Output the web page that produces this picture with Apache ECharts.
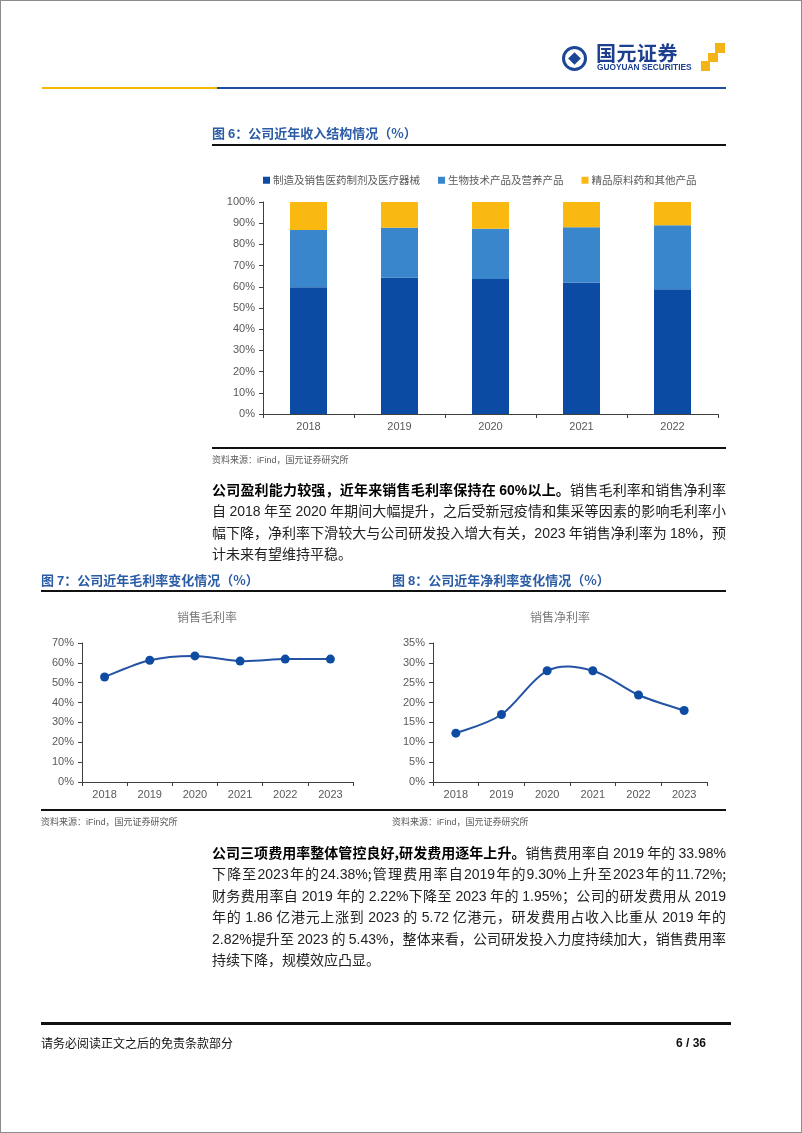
<!DOCTYPE html>
<html>
<head>
<meta charset="utf-8">
<title>国元证券</title>
<script src="https://cdn.jsdelivr.net/npm/echarts@6/dist/echarts.min.js"></script>
<style>
  body { margin: 0; background: #fff; }
  #page { position: relative; width: 802px; height: 1133px; box-sizing: border-box; border: 1px solid #8c8c8c; overflow: hidden; background: #fff; }
  #chart { position: absolute; left: -1px; top: -1px; width: 802px; height: 1133px; }
  .abs { position: absolute; white-space: nowrap; }
  .cjk { font-family: "Noto Sans CJK SC", "Liberation Sans", sans-serif; }
  .figtitle { font-size: 13px; font-weight: bold; color: #2b5ca6; line-height: 16px; }
  .src { font-size: 9px; color: #595959; line-height: 12px; }
  .rule { position: absolute; background: #111; }
  .para { position: absolute; left: 211px; width: 514px; font-size: 14px; line-height: 20.4px; color: #222; }
  .para div { text-align: justify; text-align-last: justify; white-space: nowrap; }
  .para div.last { text-align-last: left; }
  .para b { color: #000; }
  .num { font-family: "Liberation Sans", Arial, sans-serif; }
</style>
</head>
<body>
<div id="page">
  <div id="chart"></div>

  <!-- header -->
  <div class="abs" style="left:561px;top:45px;width:19px;height:19px;border:3px solid #1c4796;border-radius:50%;"></div>
  <div class="abs" style="left:569px;top:53px;width:9px;height:9px;background:#1c4796;transform:rotate(45deg);"></div>
  <div class="abs cjk" style="left:595px;top:39px;font-size:20px;font-weight:bold;color:#1c3f8f;letter-spacing:0.5px;line-height:25px;">国元证券</div>
  <div class="abs" style="left:596px;top:62px;font-family:'Liberation Sans',sans-serif;font-size:8.3px;font-weight:bold;color:#1c3f8f;line-height:9px;">GUOYUAN SECURITIES</div>
  <div class="abs" style="left:714px;top:42px;width:10px;height:10px;background:#f5b415;"></div>
  <div class="abs" style="left:707px;top:52px;width:10px;height:9px;background:#f5b415;"></div>
  <div class="abs" style="left:700px;top:60px;width:9px;height:10px;background:#f5b415;"></div>
  <div class="rule" style="left:41px;top:86px;width:175px;height:2px;background:#f5b800;"></div>
  <div class="rule" style="left:216px;top:86px;width:509px;height:2px;background:#1f4e9c;"></div>

  <!-- figure 6 -->
  <div class="abs cjk figtitle" style="left:211px;top:124px;">图 <span class="num">6</span>：公司近年收入结构情况（%）</div>
  <div class="rule" style="left:211px;top:143px;width:514px;height:2px;"></div>
  <div class="rule" style="left:211px;top:446px;width:514px;height:1.5px;"></div>
  <div class="abs cjk src" style="left:211px;top:453px;">资料来源：<span class="num">iFind</span>，国元证券研究所</div>

  <!-- paragraph 1 -->
  <div class="para cjk" style="top:478px;">
    <div><b>公司盈利能力较强，近年来销售毛利率保持在 <span class="num">60%</span>以上。</b>销售毛利率和销售净利率</div>
    <div>自 <span class="num">2018</span> 年至 <span class="num">2020</span> 年期间大幅提升，之后受新冠疫情和集采等因素的影响毛利率小</div>
    <div>幅下降，净利率下滑较大与公司研发投入增大有关，<span class="num">2023</span> 年销售净利率为 <span class="num">18%</span>，预</div>
    <div class="last">计未来有望维持平稳。</div>
  </div>

  <!-- figures 7 & 8 -->
  <div class="abs cjk figtitle" style="left:40px;top:571px;">图 <span class="num">7</span>：公司近年毛利率变化情况（%）</div>
  <div class="abs cjk figtitle" style="left:391px;top:571px;">图 <span class="num">8</span>：公司近年净利率变化情况（%）</div>
  <div class="rule" style="left:40px;top:589px;width:685px;height:2px;"></div>
  <div class="rule" style="left:40px;top:808px;width:685px;height:1.5px;"></div>
  <div class="abs cjk src" style="left:40px;top:815px;">资料来源：<span class="num">iFind</span>，国元证券研究所</div>
  <div class="abs cjk src" style="left:391px;top:815px;">资料来源：<span class="num">iFind</span>，国元证券研究所</div>

  <!-- paragraph 2 -->
  <div class="para cjk" style="top:841px;">
    <div><b>公司三项费用率整体管控良好,研发费用逐年上升。</b>销售费用率自 <span class="num">2019</span> 年的 <span class="num">33.98%</span></div>
    <div>下降至<span class="num">2023</span>年的<span class="num">24.38%</span>;管理费用率自<span class="num">2019</span>年的<span class="num">9.30%</span>上升至<span class="num">2023</span>年的<span class="num">11.72%</span>;</div>
    <div>财务费用率自 <span class="num">2019</span> 年的 <span class="num">2.22%</span>下降至 <span class="num">2023</span> 年的 <span class="num">1.95%</span>；公司的研发费用从 <span class="num">2019</span></div>
    <div>年的 <span class="num">1.86</span> 亿港元上涨到 <span class="num">2023</span> 的 <span class="num">5.72</span> 亿港元，研发费用占收入比重从 <span class="num">2019</span> 年的</div>
    <div><span class="num">2.82%</span>提升至 <span class="num">2023</span> 的 <span class="num">5.43%</span>，整体来看，公司研发投入力度持续加大，销售费用率</div>
    <div class="last">持续下降，规模效应凸显。</div>
  </div>

  <!-- footer -->
  <div class="rule" style="left:40px;top:1021px;width:690px;height:3px;"></div>
  <div class="abs cjk" style="left:40px;top:1034px;font-size:12px;color:#111;line-height:16px;">请务必阅读正文之后的免责条款部分</div>
  <div class="abs" style="left:675px;top:1034px;font-family:'Liberation Sans',sans-serif;font-size:12px;font-weight:bold;color:#111;line-height:16px;">6 / 36</div>
</div>

<script>
// 图6 收入结构 (%)
const years6 = ['2018', '2019', '2020', '2021', '2022'];
const pharmaShare = [59.8, 64.4, 63.7, 62.0, 58.9];
const bioShare = [27.0, 23.4, 23.7, 26.1, 30.1];
const rawShare = [13.2, 12.2, 12.6, 11.9, 11.0];
const seriesNames6 = ['制造及销售医药制剂及医疗器械', '生物技术产品及营养产品', '精品原料药和其他产品'];

// 图7 / 图8 毛利率、净利率 (%)
const years78 = ['2018', '2019', '2020', '2021', '2022', '2023'];
const grossMargin = [52.9, 61.3, 63.5, 60.9, 61.9, 61.9];
const netMargin = [12.3, 17.0, 28.0, 28.0, 21.9, 18.0];

const axisColor = '#3f3f3f';
const labelColor = '#595959';
const lineColor = '#2453a5';
const dotColor = '#0e4ca3';
const latin = 'Liberation Sans';
const cjk = 'Noto Sans CJK SC';

function xAxisCfg(gridIndex, data) {
  return {
    type: 'category',
    gridIndex: gridIndex,
    data: data,
    boundaryGap: true,
    axisLine: { lineStyle: { color: axisColor, width: 1 } },
    axisTick: { show: true, length: 4, lineStyle: { color: axisColor } },
    axisLabel: { color: labelColor, fontSize: 11, fontFamily: latin, margin: 7 }
  };
}

function yAxisCfg(gridIndex, max, interval) {
  return {
    type: 'value',
    gridIndex: gridIndex,
    min: 0,
    max: max,
    interval: interval,
    axisLine: { show: true, lineStyle: { color: axisColor, width: 1 } },
    axisTick: { show: true, length: 4, lineStyle: { color: axisColor } },
    splitLine: { show: false },
    axisLabel: { color: labelColor, fontSize: 11, fontFamily: latin, margin: 8, formatter: '{value}%' }
  };
}

// excel-like smoothed line: one cubic segment per point pair, points come from api.coord
function smoothSegment(values) {
  return function (params, api) {
    const i = params.dataIndex;
    if (i >= values.length - 1) return null;
    const p = k => api.coord([Math.max(0, Math.min(values.length - 1, k)), values[Math.max(0, Math.min(values.length - 1, k))]]);
    const p0 = p(i - 1), p1 = p(i), p2 = p(i + 1), p3 = p(i + 2);
    return {
      type: 'bezierCurve',
      shape: {
        x1: p1[0], y1: p1[1], x2: p2[0], y2: p2[1],
        cpx1: p1[0] + (p2[0] - p0[0]) / 6, cpy1: p1[1] + (p2[1] - p0[1]) / 6,
        cpx2: p2[0] - (p3[0] - p1[0]) / 6, cpy2: p2[1] - (p3[1] - p1[1]) / 6
      },
      style: { fill: null, stroke: lineColor, lineWidth: 2 }
    };
  };
}

const chart = echarts.init(document.getElementById('chart'), null, { renderer: 'canvas' });

const option = {
  animation: false,
  legend: {
    data: seriesNames6,
    left: 258,
    top: 170,
    itemWidth: 7,
    itemHeight: 7,
    itemGap: 18,
    icon: 'rect',
    textStyle: { color: labelColor, fontSize: 10.5, fontFamily: cjk, padding: [0, 0, 0, -2] }
  },
  grid: [
    { left: 263, top: 202, width: 455, height: 212 },
    { left: 82, top: 643, width: 271, height: 139 },
    { left: 433, top: 643, width: 274, height: 139 }
  ],
  xAxis: [xAxisCfg(0, years6), xAxisCfg(1, years78), xAxisCfg(2, years78)],
  yAxis: [yAxisCfg(0, 100, 10), yAxisCfg(1, 70, 10), yAxisCfg(2, 35, 5)],
  graphic: [
    { type: 'text', left: 207 - 30, top: 611, style: { text: '销售毛利率', fill: '#7a7a7a', font: '12px "Noto Sans CJK SC"' } },
    { type: 'text', left: 560 - 30, top: 611, style: { text: '销售净利率', fill: '#7a7a7a', font: '12px "Noto Sans CJK SC"' } }
  ],
  series: [
    { name: seriesNames6[0], type: 'bar', stack: 'mix', xAxisIndex: 0, yAxisIndex: 0, barWidth: 37, data: pharmaShare, itemStyle: { color: '#0b4ba3' } },
    { name: seriesNames6[1], type: 'bar', stack: 'mix', xAxisIndex: 0, yAxisIndex: 0, barWidth: 37, data: bioShare, itemStyle: { color: '#3a86cd' } },
    { name: seriesNames6[2], type: 'bar', stack: 'mix', xAxisIndex: 0, yAxisIndex: 0, barWidth: 37, data: rawShare, itemStyle: { color: '#f9b911' } },
    {
      type: 'custom', xAxisIndex: 1, yAxisIndex: 1,
      data: grossMargin.map((v, i) => [i, v]),
      encode: { x: 0, y: 1 },
      renderItem: smoothSegment(grossMargin), z: 2
    },
    {
      name: '销售毛利率', type: 'scatter', xAxisIndex: 1, yAxisIndex: 1, data: grossMargin,
      symbol: 'circle', symbolSize: 9, itemStyle: { color: dotColor, opacity: 1 }, z: 3
    },
    {
      type: 'custom', xAxisIndex: 2, yAxisIndex: 2,
      data: netMargin.map((v, i) => [i, v]),
      encode: { x: 0, y: 1 },
      renderItem: smoothSegment(netMargin), z: 2
    },
    {
      name: '销售净利率', type: 'scatter', xAxisIndex: 2, yAxisIndex: 2, data: netMargin,
      symbol: 'circle', symbolSize: 9, itemStyle: { color: dotColor, opacity: 1 }, z: 3
    }
  ]
};

chart.setOption(option);
</script>
</body>
</html>
